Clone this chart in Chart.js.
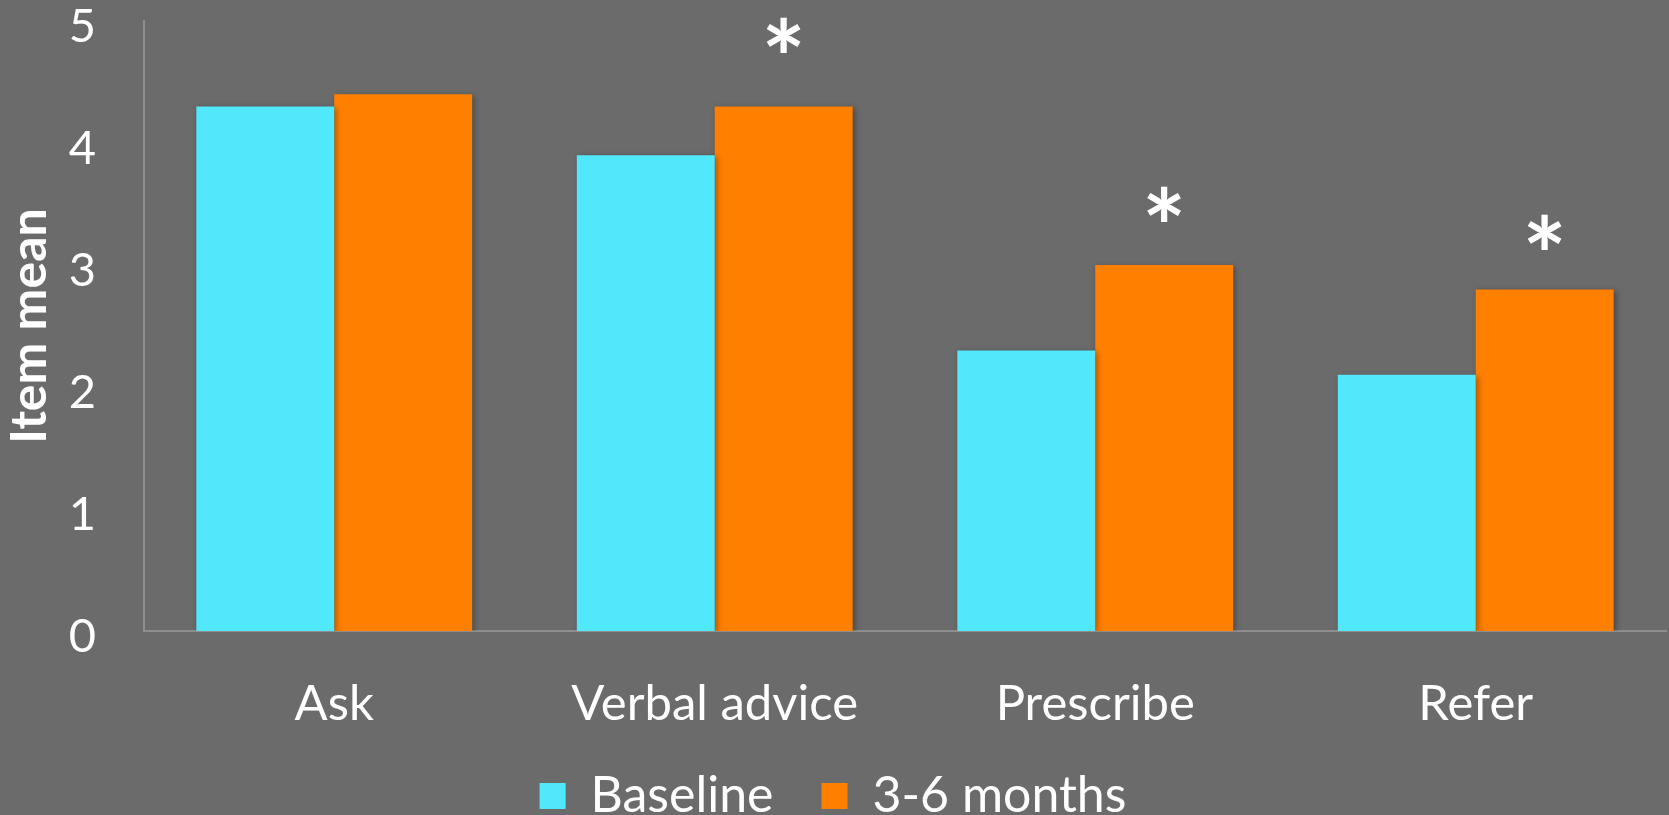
<!DOCTYPE html>
<html>
<head>
<meta charset="utf-8">
<script src="https://cdn.jsdelivr.net/npm/chart.js@4.4.1/dist/chart.umd.min.js"></script>
<style>
  html, body { margin: 0; padding: 0; background: #6b6b6b; }
  #wrap { width: 1669px; height: 815px; position: relative; }
</style>
</head>
<body>
<div id="wrap"><canvas id="myChart"></canvas></div>
<script>
// dane wykresu
const categories = ['Ask', 'Verbal advice', 'Prescribe', 'Refer'];
const baseline = [4.3, 3.9, 2.3, 2.1];
const months36 = [4.4, 4.3, 3.0, 2.8];
// gwiazdki istotnosci (wartosc na osi y, null = brak)
const starValues = [null, 4.86, 3.47, 3.24];
const yTicks = [0, 1, 2, 3, 4, 5];

const FONT = 'Lato, "Open Sans", sans-serif';
const WHITE = '#ffffff';

// cien pod slupkami
const shadowPlugin = {
    id: 'barShadow',
    beforeDatasetsDraw(chart) {
        const ctx = chart.ctx;
        ctx.save();
        ctx.shadowColor = 'rgba(0,0,0,0.35)';
        ctx.shadowBlur = 6;
        ctx.shadowOffsetX = 2;
        ctx.shadowOffsetY = 2;
    },
    afterDatasetsDraw(chart) {
        chart.ctx.restore();
    }
};

// gwiazdki nad pomaranczowymi slupkami
const starPlugin = {
    id: 'stars',
    afterDatasetsDraw(chart) {
        const ctx = chart.ctx;
        const meta = chart.getDatasetMeta(1);
        const yScale = chart.scales.y;
        ctx.save();
        ctx.fillStyle = WHITE;
        ctx.font = 'bold 104px ' + FONT;
        ctx.textAlign = 'center';
        ctx.textBaseline = 'middle';
        starValues.forEach(function(v, i) {
            if (v === null) return;
            const x = meta.data[i].x;
            const y = yScale.getPixelForValue(v);
            ctx.fillText('*', x, y + 24);
        });
        ctx.restore();
    }
};

const ctx = document.getElementById('myChart').getContext('2d');
const chart = new Chart(ctx, {
    type: 'bar',
    data: {
        labels: categories,
        datasets: [{
            label: 'Baseline',
            data: baseline,
            backgroundColor: '#52e8fc',
            borderWidth: 0
        }, {
            label: '3-6 months',
            data: months36,
            backgroundColor: '#ff7f00',
            borderWidth: 0
        }]
    },
    options: {
        responsive: true,
        maintainAspectRatio: false,
        animation: false,
        layout: { padding: { top: 21, right: 3, left: 0, bottom: -16 } },
        datasets: {
            bar: { categoryPercentage: 0.725, barPercentage: 1.0 }
        },
        scales: {
            x: {
                afterFit(axis) {
                    axis.height = 92;
                },
                grid: { display: false, drawTicks: false },
                border: { display: true, color: '#8e8e8e', width: 2 },
                ticks: { color: WHITE, font: { family: FONT, size: 49 }, padding: 44 }
            },
            y: {
                min: 0,
                max: 5,
                afterBuildTicks(axis) {
                    axis.ticks = yTicks.map(v => ({ value: v }));
                },
                afterFit(axis) {
                    axis.width = 144;
                    axis.paddingTop = 0;
                    axis.paddingBottom = 0;
                },
                grid: { display: false, drawTicks: false },
                border: { display: true, color: '#8e8e8e', width: 2 },
                ticks: { color: WHITE, font: { family: FONT, size: 47 }, padding: 48, labelOffset: 6 },
                title: {
                    display: true,
                    text: 'Item mean',
                    color: WHITE,
                    font: { family: FONT, size: 50, weight: 'bold' },
                    padding: { top: 0, bottom: 0 }
                }
            }
        },
        plugins: {
            legend: {
                position: 'bottom',
                labels: {
                    color: WHITE,
                    font: { family: FONT, size: 50 },
                    boxWidth: 26,
                    boxHeight: 26,
                    padding: 48
                }
            },
            tooltip: { enabled: false }
        }
    },
    plugins: [shadowPlugin, starPlugin]
});
</script>
</body>
</html>
